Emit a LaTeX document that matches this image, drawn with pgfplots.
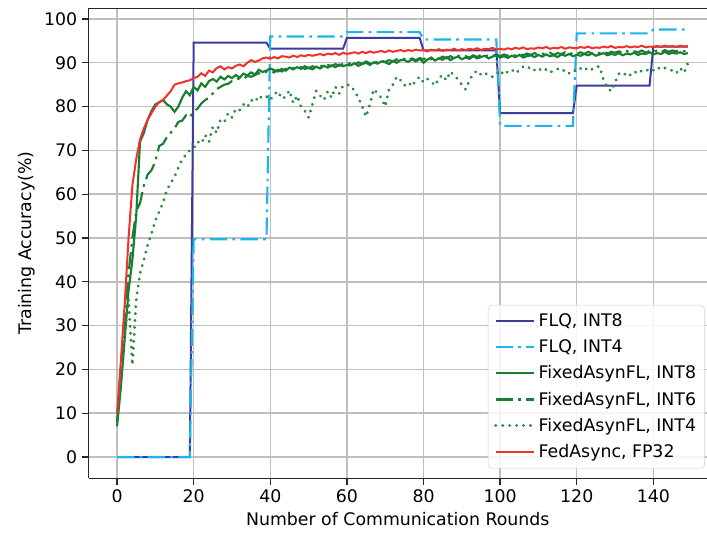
\documentclass[border=0pt]{standalone}
\usepackage{fontspec}
\setmainfont{DejaVu Sans}
\usepackage{pgfplots}
\usepackage{pgfplotstable}
\pgfplotsset{compat=1.18}

\definecolor{flqeight}{RGB}{60,60,160}
\definecolor{flqfour}{RGB}{30,180,240}
\definecolor{fgreen}{RGB}{25,125,50}
\definecolor{fgreenl}{RGB}{40,140,60}
\definecolor{fred}{RGB}{240,50,40}

% x  FedAsync  Fixed-INT8  Fixed-INT6  Fixed-INT4
\pgfplotstableread{
x r g8 g6 g4
0 10 7 8 9
1 22 16 20 18
2 35 27 32 28
3 50 38 42 36
4 62 45 50 21
5 68 55 56 36
6 72.5 72 58 42
7 75 74 62 45
8 77 77 64.5 48.5
9 78.5 79 65.5 51
10 80 80.5 67.5 54
11 81 81 71 56
12 81.5 81.5 71.5 58
13 82.5 80.5 73 61
14 83.5 80 74 62.5
15 85 78.8 75 64
16 85.3 80 76.5 66
17 85.5 82 76.8 68
18 85.8 83.5 78 69
19 86 82.6 77.5 70
20 86.5 84.5 79 70.5
21 86.8 83.7 79.5 72
22 87.6 85.3 80.7 71.5
23 87 84.5 81.5 73.5
24 88.2 85.8 82 72
25 87.8 86.3 83 75.4
26 88.8 85.7 84 74
27 89.2 86.8 84.5 77
28 88.5 86.2 85 76.5
29 89 87 85.2 78.5
30 88.7 86.5 85.8 77.5
31 89.3 87.2 86 79.5
32 89.6 86.6 86.5 79.2
33 89.2 87.5 86.3 80.5
34 90 87.1 87 79.8
35 90.6 87.8 86.8 81.5
36 90.2 87.3 87.2 81
37 90.5 88.4 87.6 82.5
38 91 87.9 87.4 81.8
39 91.2 88.2 88 82.3
40 90.9 88.7 88.2 81.5
41 91.3 88.3 87.8 82.8
42 91 88 88.4 83.5
43 91.5 88.6 88 81.8
44 91.4 88.2 88.6 82.2
45 91.2 88.9 88.3 83.7
46 91.6 88.5 88.8 80.8
47 91.3 89 88.5 82.5
48 91.7 88.6 89 80
49 91.5 89.2 88.6 79
50 91.8 88.8 88.8 77.5
51 91.6 88.5 89.2 80.5
52 91.8 89.1 88.9 83.6
53 92 88.7 89.4 82.5
54 91.7 89.3 89 81.5
55 92.1 88.9 89.5 83.5
56 91.9 89.4 89.2 82
57 92.2 89 89.7 84.5
58 91.8 89.6 89.3 83
59 92.3 89.2 89.8 84.8
60 92 89.5 89.6 85
61 92.2 89.4 90 84.8
62 92.4 89.9 89.5 83.5
63 92.1 89.3 90.1 82
64 92.5 89.7 89.8 80
65 92.2 90 90.3 77.7
66 92.6 89.5 89.9 80.5
67 92.3 90.1 90.4 84
68 92.5 89.8 90 83
69 92.7 90.3 90.5 82
70 92.4 90.1 90.2 80
71 92.8 89.7 90.6 84
72 92.5 90.4 90.3 85
73 92.7 90 90.8 86.8
74 92.9 90.6 90.4 86
75 92.6 90.6 90.9 84.8
76 92.9 90.2 90.5 85.5
77 92.7 90.8 91 84.6
78 93 90.3 90.6 86
79 92.8 90.9 91.1 86.8
80 92.9 90 90.8 85.5
81 92.6 90.7 91.2 86.3
82 93 91.2 90.8 85.7
83 92.8 90.5 91.3 84.8
84 93.1 91 90.9 86.5
85 92.7 90.7 91.4 87.2
86 93 91.3 91 86
87 92.9 90.6 91.5 88
88 93.2 91.1 91.1 87
89 92.8 91.4 91.6 86.2
90 93.1 90.8 91.2 85
91 92.9 91.2 91.5 83.9
92 93.2 90.9 91.2 86
93 93 91.5 91.7 87.5
94 93.3 91 91.3 88.2
95 92.9 91.3 91.8 87.3
96 93.2 91.6 91.4 87.8
97 93.1 91 91.8 87
98 93.4 91.4 91.5 86.8
99 93 91.7 91.9 87.3
100 93.2 91.2 91.5 88.3
101 93 91.5 91.9 87.2
102 93.3 91.1 91.6 88
103 93.1 91.6 92 88.5
104 93.4 91.3 91.6 87.6
105 93.2 91.8 92 88.3
106 93.5 91.2 91.7 89.1
107 93.1 91.5 92.1 88.6
108 93.3 91.7 91.8 89.1
109 93.2 91.3 92.2 88.3
110 93.5 91.8 91.8 88.8
111 93.3 91.4 92.1 88
112 93.6 91.9 91.9 88.5
113 93.2 91.5 92.3 87.8
114 93.4 91.7 91.8 88.2
115 93.3 91.3 92.2 88.6
116 93.6 91.9 92 88
117 93.2 91.6 92.4 88.4
118 93.5 92 91.9 87.6
119 93.4 91.5 92.3 88.3
120 93.3 91.8 92 88
121 93.6 91.6 92.4 88.7
122 93.4 92 92 88.2
123 93.7 91.7 92.5 89
124 93.3 92.1 92.1 88.5
125 93.5 91.6 92.4 89.1
126 93.4 91.9 92.2 89.1
127 93.7 92.2 92.6 86
128 93.5 91.7 92.1 84.2
129 93.8 92 92.5 83.5
130 93.4 91.8 92.3 85.5
131 93.6 92.2 92.6 87.5
132 93.5 91.7 92.2 87
133 93.8 92.1 92.7 87.8
134 93.5 91.9 92.3 87.2
135 93.7 92.3 92.6 88
136 93.6 91.8 92.4 87.5
137 93.9 92.1 92.8 88.2
138 93.5 92 92.3 88
139 93.7 92.4 92.7 88.7
140 93.6 91.9 92.5 88.3
141 93.8 92.2 92.8 89
142 93.6 92 92.4 88.4
143 93.9 92.5 92.9 88.8
144 93.7 92 92.5 88.5
145 93.8 92.3 92.8 88.2
146 93.6 92.1 92.6 87.6
147 93.9 92.4 92.9 88.8
148 93.7 92 92.6 87.7
149 93.8 92.2 92.8 89.9
}\fixed

\pgfplotstableread{
x y
0 0
19 0
20 94.6
39 94.6
40 93.2
59 93.2
60 95.7
79 95.7
80 92.8
99 92.8
100 78.5
119 78.5
120 84.8
139 84.8
140 93.7
149 93.7
}\flqeight

\pgfplotstableread{
x y
0 0
19 0
20 49.7
39 49.7
40 96
59 96
60 97
79 97
80 95.3
99 95.3
100 75.6
119 75.6
120 96.7
139 96.7
140 97.6
149 97.6
}\flqfour

\begin{document}
\begin{tikzpicture}
\begin{axis}[
scale only axis,width=463.9pt,height=352.9pt,
xmin=-7.45,xmax=154,ymin=-4.9,ymax=102.5,
xtick={0,20,...,140},ytick={0,10,...,100},
axis x line*=bottom,axis y line*=left,
axis line style={line width=1.1pt,black!85},
tick align=outside,major tick length=5pt,
tick style={line width=1pt,black!85},
grid=major,grid style={gray!50,line width=1.1pt},
ticklabel style={font=\fontsize{13}{15}\selectfont},
/pgf/number format/assume math mode=true,
label style={font=\fontsize{13}{15}\selectfont},
xlabel={Number of Communication Rounds},
ylabel={Training Accuracy(\%)},
legend cell align=left,
legend image code/.code={\draw[#1] (0pt,0pt) -- (29pt,0pt);},
legend style={at={(1,0)},anchor=south east,xshift=-1.5pt,yshift=7.5pt,
  font=\fontsize{13}{15}\selectfont,draw=gray!35,rounded corners=3pt,
  fill=white,fill opacity=0.85,text opacity=1,row sep=4.3pt,inner sep=4.5pt},
]
\addplot[flqeight,line width=1.5pt] table[x=x,y=y] {\flqeight};
\addplot[flqfour,line width=1.6pt,dash pattern={on 13pt off 4pt on 2pt off 4pt}] table[x=x,y=y] {\flqfour};
\addplot[fgreen,line width=1.6pt] table[x=x,y=g8] {\fixed};
\addplot[fgreen,line width=1.6pt,dash pattern={on 13pt off 4pt on 2pt off 4pt}] table[x=x,y=g6] {\fixed};
\addplot[fgreenl,line width=2.4pt,line cap=round,dash pattern={on 0.01pt off 5.2pt}] table[x=x,y=g4] {\fixed};
\addplot[fred,line width=1.5pt] table[x=x,y=r] {\fixed};
\legend{{FLQ, INT8},{FLQ, INT4},{FixedAsynFL, INT8},{FixedAsynFL, INT6},{FixedAsynFL, INT4},{FedAsync, FP32}}
\draw[line width=1.1pt,black!85] (rel axis cs:0,1) -- (rel axis cs:1,1);
\coordinate (ll) at (rel axis cs:0,0);
\coordinate (ur) at (rel axis cs:1,1);
\end{axis}
\pgfresetboundingbox
\path ([xshift=-66.4pt,yshift=-40.9pt]ll) rectangle ([yshift=6pt]ur);
\end{tikzpicture}
\end{document}
